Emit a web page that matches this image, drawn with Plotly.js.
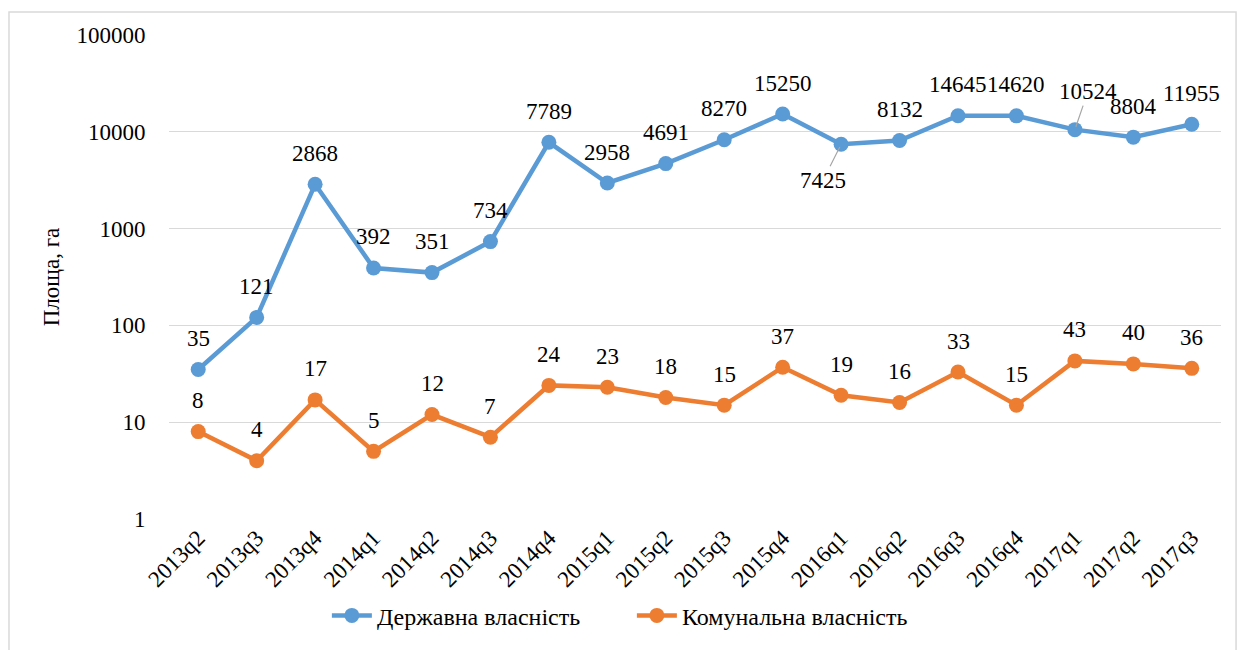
<!DOCTYPE html>
<html>
<head>
<meta charset="utf-8">
<script src="https://cdn.plot.ly/plotly-3.0.1.min.js"></script>
<style>html,body{margin:0;padding:0;background:#fff;}#chart{width:1247px;height:650px;}</style>
</head>
<body>
<div id="chart"></div>
<script>
const quarters = ["2013q2","2013q3","2013q4","2014q1","2014q2","2014q3","2014q4","2015q1","2015q2","2015q3","2015q4","2016q1","2016q2","2016q3","2016q4","2017q1","2017q2","2017q3"];
const stateArea = [35,121,2868,392,351,734,7789,2958,4691,8270,15250,7425,8132,14645,14620,10524,8804,11955];
const communalArea = [8,4,17,5,12,7,24,23,18,15,37,19,16,33,15,43,40,36];
const stateName = "Державна власність";
const communalName = "Комунальна власність";
const yTickVals = [1,10,100,1000,10000,100000];
const yTickText = ["1","10","100","1000","10000","100000"];
const yTitle = "Площа, га";

const blue = "#5B9BD5", orange = "#ED7D31";
const font = "Liberation Serif";

const traces = [
  {x: quarters, y: stateArea, name: stateName, type: "scatter", mode: "lines+markers",
   line: {color: blue, width: 4.5}, marker: {color: blue, size: 15}},
  {x: quarters, y: communalArea, name: communalName, type: "scatter", mode: "lines+markers",
   line: {color: orange, width: 4.5}, marker: {color: orange, size: 15}}
];

const annotations = [];
function addLabels(vals, special) {
  vals.forEach((v, i) => {
    const a = {x: quarters[i], y: Math.log10(v), text: String(v), xref: "x", yref: "y",
      font: {family: font, size: 23, color: "#000"}};
    const s = special[i];
    if (s) {
      Object.assign(a, {showarrow: true, arrowhead: 0, arrowwidth: 1.2, arrowcolor: "#a6a6a6",
        ax: s[0], ay: s[1], standoff: 3});
    } else {
      Object.assign(a, {showarrow: false, yshift: 31});
    }
    annotations.push(a);
  });
}
addLabels(stateArea, {11: [-18, 36], 15: [13, -38]});
addLabels(communalArea, {});

const layout = {
  width: 1247, height: 650,
  margin: {l: 169, r: 26, t: 35, b: 129},
  paper_bgcolor: "#fff", plot_bgcolor: "#fff",
  font: {family: font, size: 23, color: "#000"},
  showlegend: true,
  legend: {orientation: "h", x: 0.44, xanchor: "center", y: -0.2, yanchor: "middle",
    font: {family: font, size: 24, color: "#000"}, itemwidth: 40, tracegroupgap: 0,
    entrywidth: 250, entrywidthmode: "pixels"},
  xaxis: {type: "category", range: [-0.5, 17.5], tickangle: -45, showgrid: false, zeroline: false,
    showline: false, ticks: "", tickfont: {family: font, size: 23}, automargin: false},
  yaxis: {type: "log", range: [0, 5], tickvals: yTickVals, ticktext: yTickText,
    showgrid: true, gridcolor: "#d9d9d9", gridwidth: 1.3, zeroline: false, showline: false,
    ticks: "outside", ticklen: 18, tickcolor: "rgba(0,0,0,0)",
    tickfont: {family: font, size: 23}, automargin: false,
    title: {text: yTitle, font: {family: font, size: 23}, standoff: 10}},
  annotations: annotations,
  shapes: [{type: "rect", xref: "paper", yref: "paper", x0: -0.1521, x1: 1.0143,
    y0: -0.35, y1: 1.0473, line: {color: "#d9d9d9", width: 1.5}, layer: "below"}]
};

Plotly.newPlot("chart", traces, layout, {displayModeBar: false, staticPlot: true});
</script>
</body>
</html>
